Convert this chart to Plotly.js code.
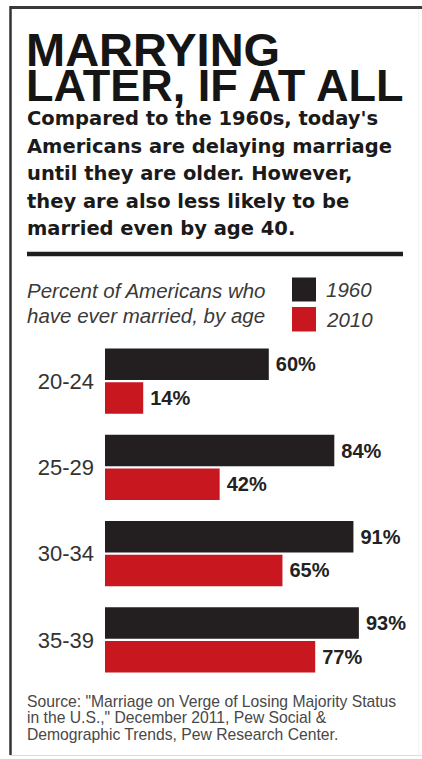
<!DOCTYPE html>
<html>
<head>
<meta charset="utf-8">
<script src="https://cdn.plot.ly/plotly-3.0.1.min.js"></script>
<style>
  html, body { margin: 0; padding: 0; background: #ffffff; }
  #chart { width: 422px; height: 759px; }
</style>
</head>
<body>
<div id="chart"></div>
<script>
// ---- data ----
const ageGroups = ['20-24', '25-29', '30-34', '35-39'];
const pct1960 = [60, 84, 91, 93];
const pct2010 = [14, 42, 65, 77];
const seriesNames = ['1960', '2010'];

const titleLines = ['MARRYING', 'LATER, IF AT ALL'];
const subtitleLines = [
  "Compared to the 1960s, today's",
  'Americans are delaying marriage',
  'until they are older. However,',
  'they are also less likely to be',
  'married even by age 40.'
];
const legendTitleLines = ['Percent of Americans who', 'have ever married, by age'];
const sourceLines = [
  'Source: "Marriage on Verge of Losing Majority Status',
  'in the U.S.," December 2011, Pew Social &',
  'Demographic Trends, Pew Research Center.'
];

// ---- styling ----
const C_BLACK = '#231f20';
const C_RED = '#c8171e';
const W = 422, H = 759;
const M = {l: 105, r: 44, t: 338, b: 76};
const plotW = W - M.l - M.r, plotH = H - M.t - M.b;
const px = x => (x - M.l) / plotW;
const py = y => (H - M.b - y) / plotH;
const SANS = 'Liberation Sans, Arial, sans-serif';

const valueFont = {family: SANS, size: 20, color: '#222', weight: 'bold'};
const traces = [
  {
    type: 'bar', orientation: 'h', name: seriesNames[0],
    y: ageGroups, x: pct1960,
    marker: {color: C_BLACK},
    text: pct1960.map(v => '\u2009' + v + '%'), textposition: 'outside',
    textfont: valueFont, constraintext: 'none', cliponaxis: false, hoverinfo: 'skip'
  },
  {
    type: 'bar', orientation: 'h', name: seriesNames[1],
    y: ageGroups, x: pct2010,
    marker: {color: C_RED},
    text: pct2010.map(v => '\u2009' + v + '%'), textposition: 'outside',
    textfont: valueFont, constraintext: 'none', cliponaxis: false, hoverinfo: 'skip'
  }
];

const ann = [];
function addText(text, x, y, font, yanchor) {
  ann.push({text: text, x: px(x), y: py(y), xref: 'paper', yref: 'paper',
    xanchor: 'left', yanchor: yanchor || 'middle', showarrow: false, align: 'left',
    font: font, borderpad: 0});
}
// headline: one text block, two sizes, tight leading (line pitch = 1.3 * base size)
addText('<span style="font-size:47px">' + titleLines[0] + '</span><br>' +
        '<span style="font-size:45px">' + titleLines[1] + '</span>',
        25, 67, {family: SANS, size: 27.2, color: '#151515', weight: 'bold'});
// subtitle
const subY = [119, 146.4, 173.8, 201.2, 228.6];
subtitleLines.forEach((t, i) => addText(t, 26, subY[i], {family: 'DejaVu Sans, sans-serif', size: 19.5, color: '#1a1a1a', weight: 'bold'}));
// legend title
const legY = [290, 315];
const italicFont = {family: SANS, size: 20.5, color: '#3a3a3a', style: 'italic'};
legendTitleLines.forEach((t, i) => addText(t, 26, legY[i], italicFont));
// legend labels
addText(seriesNames[0], 325, 289.5, italicFont);
addText(seriesNames[1], 325, 319, italicFont);
// source
const srcY = [701, 717.5, 734];
sourceLines.forEach((t, i) => addText(t, 26, srcY[i], {family: SANS, size: 15.7, color: '#484848'}));

function line(x0, y0, x1, y1, color, width) {
  return {type: 'line', xref: 'paper', yref: 'paper', x0: px(x0), y0: py(y0), x1: px(x1), y1: py(y1),
    line: {color: color, width: width}, layer: 'above'};
}
function rect(x0, y0, x1, y1, color) {
  return {type: 'rect', xref: 'paper', yref: 'paper', x0: px(x0), y0: py(y0), x1: px(x1), y1: py(y1),
    fillcolor: color, line: {width: 0}, layer: 'above'};
}
const shapes = [
  line(10, 7.5, 422, 7.5, '#3a3a3a', 3),
  line(10.5, 6, 10.5, 755, '#333', 2.5),
  line(10, 755.5, 422, 755.5, '#dcdcdc', 1),
  line(418.5, 9, 418.5, 755, '#f3f3f3', 1),
  line(27, 254, 403, 254, '#1e1e1e', 4.5),
  rect(292, 277.5, 316, 301.5, C_BLACK),
  rect(292, 307, 316, 331.5, C_RED)
];

const layout = {
  width: W, height: H,
  margin: M,
  paper_bgcolor: '#ffffff', plot_bgcolor: '#ffffff',
  showlegend: false,
  barmode: 'group', bargap: 0.22, bargroupgap: 0.06,
  xaxis: {range: [0, 100], visible: false, fixedrange: true},
  yaxis: {
    type: 'category', autorange: 'reversed', showgrid: false, zeroline: false, showline: false,
    ticks: '', ticklabelstandoff: 10,
    tickfont: {family: SANS, size: 22, color: '#333'}
  },
  annotations: ann,
  shapes: shapes,
  font: {family: SANS}
};

Plotly.newPlot('chart', traces, layout, {staticPlot: true, displayModeBar: false});
</script>
</body>
</html>
